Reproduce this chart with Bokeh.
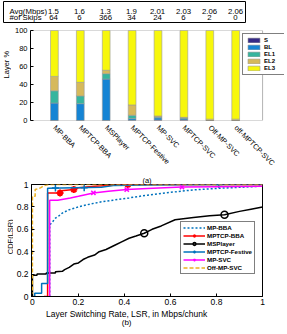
import math
from bokeh.plotting import figure
from bokeh.models import (ColumnDataSource, Legend, LegendItem, FixedTicker, BoxAnnotation,
                          Title, Range1d, NumeralTickFormatter)
from bokeh.layouts import column, row
from bokeh.embed import file_html
from bokeh.resources import INLINE
from bokeh.core.properties import value

FONT = "Liberation Sans"

# ---------------- data: (a) layer distribution ----------------
methods = ["MP-BBA", "MPTCP-BBA", "MSPlayer", "MPTCP-Festive", "MP-SVC",
           "MPTCP-SVC", "Off-MP-SVC", "off-MPTCP-SVC"]
avg_mbps = ["1.5", "1.6", "1.3", "1.9", "2.01", "2.03", "2.06", "2.06"]
skips = ["64", "6", "366", "34", "24", "6", "2", "0"]
layers = ["S", "BL", "EL1", "EL2", "EL3"]
S = [0, 0, 0, 0.3, 0.5, 0.5, 0, 0]
BL = [19.4, 18.7, 46, 2, 2.5, 1.5, 0, 0]
EL1 = [13.6, 8.6, 6, 3.5, 1, 1, 0, 0]
EL2 = [16, 15.1, 3.8, 11.5, 1, 0.5, 1.5, 1.5]
EL3 = [51, 57.6, 44.2, 82.7, 95, 96.5, 98.5, 98.5]
layer_colors = ["#352A87", "#1584D4", "#36B59E", "#D6B95B", "#F7F70C"]
bar_ticks = [0, 20, 40, 60, 80, 100]

# ---------------- data: (b) CDF of LSR ----------------
bba_x = [0.075, 0.075, 0.085, 0.1, 0.115, 0.13, 0.16, 0.2, 0.25, 0.3, 0.35, 0.42, 0.5, 0.6, 0.7, 0.8, 0.9, 1.0]
bba_y = [0, 0.64, 0.66, 0.7, 0.72, 0.745, 0.775, 0.80, 0.825, 0.845, 0.86, 0.88, 0.905, 0.93, 0.952, 0.965, 0.975, 0.985]

tbba_x = [0.05, 0.066, 0.066, 0.12, 0.125, 0.18, 0.2, 0.27, 0.33, 0.415, 1.0]
tbba_y = [0, 0, 0.925, 0.925, 0.945, 0.955, 0.97, 0.985, 0.99, 1.0, 1.0]
tbba_mx = [0.12, 0.18, 0.415]
tbba_my = [0.925, 0.955, 1.0]

msp_x = [0, 0, 0.02, 0.02, 0.06, 0.06, 0.1, 0.1, 0.13, 0.14, 0.16, 0.18, 0.2, 0.22, 0.24, 0.27,
         0.29, 0.32, 0.36, 0.39, 0.42, 0.45, 0.486, 0.52, 0.56, 0.62, 0.7, 0.77, 0.835, 0.9, 0.95, 1.0]
msp_y = [0, 0.19, 0.19, 0.2, 0.2, 0.21, 0.21, 0.22, 0.225, 0.24, 0.26, 0.29, 0.3, 0.33, 0.35, 0.37,
         0.4, 0.42, 0.46, 0.49, 0.52, 0.54, 0.565, 0.6, 0.63, 0.685, 0.705, 0.72, 0.73, 0.76, 0.78, 0.80]
msp_mx = [0.486, 0.835]
msp_my = [0.565, 0.73]

fest_x = [0, 0.01, 0.01, 0.04, 0.04, 0.066, 0.066, 0.3, 0.35, 0.5, 0.8, 1.0]
fest_y = [0, 0, 0.03, 0.03, 0.117, 0.117, 0.967, 0.975, 0.99, 0.995, 1.0, 1.0]
fest_mx = [0.1, 0.225, 0.81]
fest_my = [0.968, 0.971, 1.0]

svc_x = [0.075, 0.075, 0.11, 0.165, 0.2, 0.265, 0.33, 0.41, 0.5, 0.65, 0.8, 1.0]
svc_y = [0, 0.86, 0.86, 0.88, 0.895, 0.925, 0.94, 0.955, 0.965, 0.977, 0.981, 0.985]
svc_mx = [0.265, 0.41, 0.65]
svc_my = [0.925, 0.955, 0.977]

off_x = [0, 0, 0.012, 0.012, 0.035, 0.05, 0.072, 1.0]
off_y = [0, 0.895, 0.895, 0.955, 0.97, 0.99, 1.0, 1.0]

cdf_ticks = [0, 0.2, 0.4, 0.6, 0.8, 1.0]

W = 285
H0, H1, H2, H3 = 23, 150, 135, 26          # stacked heights (page px)
SW1, SW2 = 11, 13                          # widths of the y-title strips


def strip(width, height):
    s = figure(width=width, height=height, x_range=Range1d(0, width), y_range=Range1d(0, height),
               output_backend="svg", toolbar_location=None, x_axis_type=None, y_axis_type=None,
               min_border=0)
    s.grid.visible = False
    s.outline_line_color = None
    return s


# ================= geometry of (a) =================
F1L, F1R, F1E = 29, 262, 284     # frame left, visible box right, extended frame right (page px)
BAR0, BARSTEP = 53, 26.0         # page px of first category and spacing


def f1x(px):
    return 1 + (px - BAR0) / BARSTEP


XR = (f1x(F1L), f1x(F1E))

xpos = list(range(1, len(methods) + 1))
src = ColumnDataSource(dict(x=xpos, S=S, BL=BL, EL1=EL1, EL2=EL2, EL3=EL3,
                            avg=avg_mbps, skip=skips))

# ---------- table header ----------
p0 = figure(width=W, height=H0, x_range=Range1d(f1x(3), f1x(245)), y_range=Range1d(0, 21),
            output_backend="svg", toolbar_location=None, x_axis_type=None, y_axis_type=None,
            min_border_left=3, min_border_right=W - 245, min_border_top=1, min_border_bottom=1)
p0.grid.visible = False
p0.outline_line_color = "black"
p0.outline_line_width = 1
ROW1, ROW2 = 22 - 10.5, 22 - 17.0
tkw = dict(text_font=value(FONT), text_font_size="7.8px", text_color="black", text_baseline="middle")
p0.text(x=[f1x(9)], y=[ROW1], text=["Avg(Mbps)"], text_align="left", **tkw)
p0.text(x=[f1x(9)], y=[ROW2], text=["#of Skips"], text_align="left", **tkw)
p0.text(x="x", y=ROW1, text="avg", source=src, text_align="center", **tkw)
p0.text(x="x", y=ROW2, text="skip", source=src, text_align="center", **tkw)

# ---------- bar chart ----------
s1 = strip(SW1, H1)
s1.text(x=[6], y=[H1 - (80 - H0)], text=["Layer %"], angle=math.pi / 2, text_align="center",
        text_baseline="middle", text_font=value(FONT), text_font_size="7.5px", text_color="black")

p1 = figure(width=W - SW1, height=H1, x_range=XR, y_range=(0, 100),
            output_backend="svg", toolbar_location=None,
            min_border_left=F1L - SW1, min_border_right=W - F1E, min_border_top=7, min_border_bottom=50)
p1.grid.visible = False
p1.outline_line_color = None
p1.add_layout(BoxAnnotation(left=XR[0], right=f1x(F1R), bottom=0, top=100, fill_alpha=0,
                            line_color="black", line_width=1, level="overlay"))

bars = p1.vbar_stack(layers, x="x", width=0.3, source=src, fill_color=layer_colors,
                     line_color="#9a9a9a", line_width=0.6)

p1.xaxis.ticker = FixedTicker(ticks=xpos)
p1.xaxis.major_label_overrides = {i: m for i, m in zip(xpos, methods)}
p1.xaxis.major_label_orientation = -math.pi / 4
p1.xaxis.major_label_standoff = 6
p1.xaxis.major_label_text_font = FONT
p1.xaxis.major_label_text_font_size = "7.3px"
p1.xaxis.major_label_text_color = "black"
p1.xaxis.major_tick_in = 0
p1.xaxis.major_tick_out = 0
p1.xaxis.minor_tick_line_color = None
p1.xaxis.axis_line_color = None

p1.yaxis.ticker = FixedTicker(ticks=bar_ticks)
p1.yaxis.major_tick_in = 3
p1.yaxis.major_tick_out = 0
p1.yaxis.minor_tick_line_color = None
p1.yaxis.major_label_standoff = 3
p1.yaxis.major_label_text_font = FONT
p1.yaxis.major_label_text_font_size = "7.5px"
p1.yaxis.major_label_text_color = "black"
p1.yaxis.axis_line_color = "black"

leg1 = Legend(items=[LegendItem(label=l, renderers=[r]) for l, r in zip(layers, bars)],
              location=(241 - F1L, 45), glyph_width=15, glyph_height=6, label_height=6,
              label_standoff=3, spacing=1, padding=3, margin=0,
              border_line_color="black", border_line_width=1.2,
              label_text_font=FONT, label_text_font_size="6px", label_text_font_style="bold",
              label_text_color="black", background_fill_color="white", background_fill_alpha=1)
p1.add_layout(leg1)

# ================= (b) CDF =================
F2L, F2R = 28, 262
s2 = strip(SW2, H2)
s2.text(x=[9.5], y=[H2 - (236 - H0 - H1)], text=["CDF(LSR)"], angle=math.pi / 2, text_align="center",
        text_baseline="middle", text_font=value(FONT), text_font_size="7.5px", text_color="black")

p2 = figure(width=W - SW2, height=H2, x_range=(-0.004, 1.0), y_range=(0, 1),
            output_backend="svg", toolbar_location=None,
            min_border_left=F2L - SW2, min_border_right=W - F2R, min_border_top=9, min_border_bottom=12)
p2.grid.visible = False
p2.outline_line_color = "black"

BLUE = "#0072BD"
r_bba = p2.line(bba_x, bba_y, line_color=BLUE, line_width=1.5, line_dash="2 2")
r_tbba = p2.line(tbba_x, tbba_y, line_color="#FF0000", line_width=1.5)
m_tbba = p2.scatter(tbba_mx, tbba_my, marker="asterisk", size=7, line_color="#FF0000", line_width=2)
r_msp = p2.line(msp_x, msp_y, line_color="black", line_width=1.5)
m_msp = p2.scatter(msp_mx, msp_my, marker="circle", size=7, line_color="black", fill_color=None, line_width=1.5)
r_fest = p2.line(fest_x, fest_y, line_color=BLUE, line_width=1.5)
m_fest = p2.scatter(fest_mx, fest_my, marker="cross", size=7, line_color=BLUE, line_width=1.5)
r_svc = p2.line(svc_x, svc_y, line_color="#FF00FF", line_width=1.5)
m_svc = p2.scatter(svc_mx, svc_my, marker="x", size=6, line_color="#FF00FF", line_width=1.5)
r_off = p2.line(off_x, off_y, line_color="#EDB120", line_width=1.5, line_dash="4 2")

for ax in (p2.xaxis, p2.yaxis):
    ax.ticker = FixedTicker(ticks=cdf_ticks)
    ax.formatter = NumeralTickFormatter(format="0.[0]")
    ax.major_tick_in = 3
    ax.major_tick_out = 0
    ax.minor_tick_line_color = None
    ax.major_label_text_font = FONT
    ax.major_label_text_font_size = "8.5px"
    ax.major_label_text_color = "black"
    ax.axis_line_color = "black"
p2.xaxis.major_label_standoff = 2
p2.yaxis.major_label_standoff = 3

p2.add_layout(Title(text="(a)", align="center", standoff=0, text_font=FONT,
                    text_font_size="7.5px", text_font_style="normal", text_color="black"), "above")

leg2 = Legend(items=[LegendItem(label="MP-BBA", renderers=[r_bba]),
                     LegendItem(label="MPTCP-BBA", renderers=[r_tbba, m_tbba]),
                     LegendItem(label="MSPlayer", renderers=[r_msp, m_msp]),
                     LegendItem(label="MPTCP-Festive", renderers=[r_fest, m_fest]),
                     LegendItem(label="MP-SVC", renderers=[r_svc, m_svc]),
                     LegendItem(label="Off-MP-SVC", renderers=[r_off])],
              location=(149, 22), glyph_width=22, glyph_height=7, label_height=7,
              label_standoff=2, spacing=1, padding=2, margin=0,
              border_line_color="black", border_line_width=1.2,
              label_text_font=FONT, label_text_font_size="6.2px", label_text_font_style="bold",
              label_text_color="black", background_fill_color="white", background_fill_alpha=1)
p2.add_layout(leg2)

# ---------- x title strip under (b) ----------
s3 = strip(W, H3)
top3 = H0 + H1 + H2
s3.text(x=[(F2L + F2R) / 2], y=[H3 - (313 - top3)], text=["Layer Switching Rate, LSR, in Mbps/chunk"],
        text_align="center", text_baseline="middle", text_font=value(FONT), text_font_size="8.5px",
        text_color="black")
s3.text(x=[(F2L + F2R) / 2], y=[H3 - (322 - top3)], text=["(b)"],
        text_align="center", text_baseline="middle", text_font=value(FONT), text_font_size="8px",
        text_color="black")

layout = column(p0, row(s1, p1, spacing=0), row(s2, p2, spacing=0), s3, spacing=0)
open("out.html", "w").write(file_html(layout, INLINE))
